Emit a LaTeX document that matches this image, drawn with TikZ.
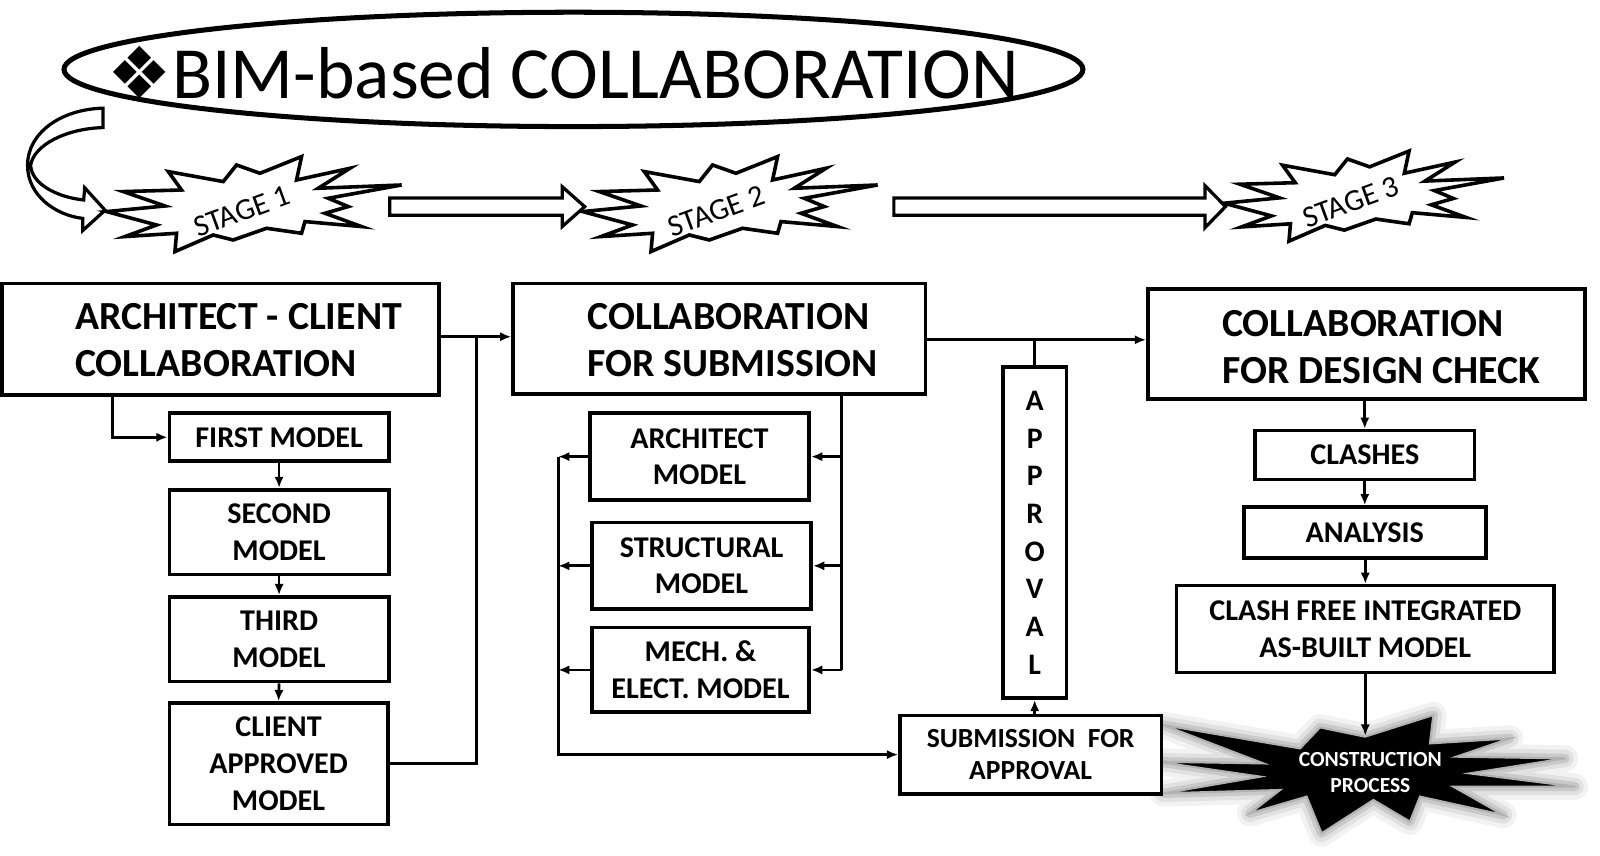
\documentclass[tikz,border=0pt]{standalone}
\usepackage{fontspec}
\setmainfont{Carlito}
\newfontfamily\dejavu{DejaVu Sans}
\usetikzlibrary{shapes.geometric,arrows.meta,calc}
\begin{document}
\begin{tikzpicture}[x=0.01cm,y=-0.01cm,
  box/.style={draw, line width=1pt, fill=white, inner sep=0pt, align=center, font=\fontsize{8.4pt}{10.2pt}\selectfont\bfseries},
  bigbox/.style={draw, line width=1pt, fill=white, inner sep=0pt},
  headtxt/.style={inner sep=0pt, align=left, anchor=north west, font=\fontsize{11.1pt}{13.1pt}\selectfont\bfseries},
  conn/.style={line width=0.75pt},
  arr/.style={line width=0.75pt, -{Latex[length=1.1mm,width=0.9mm]}},
  burst/.style={draw, line width=1pt, fill=white, line join=miter},
  stagetxt/.style={rotate=20, inner sep=0pt, font=\fontsize{8.5pt}{10pt}\selectfont},
  block/.style={draw, line width=0.9pt, fill=white},
  pics/stageburst/.style={code={
    \path[burst] (-146.7,8.3) -- (-88.3,2.7) -- (-130,-11.7) -- (-71.7,-13.3) -- (-85,-31.7) -- (-30,-21.7) -- (-16.7,-38.3) -- (6.7,-30) -- (48.3,-46.7) -- (43.3,-23.3) -- (96.7,-35) -- (65,-15) -- (148.3,-18.3) -- (75,-5) -- (95,3.3) -- (71.7,10) -- (108.3,23.3) -- (51.7,18.3) -- (48.3,30) -- (13.3,25) -- (-20,36.7) -- (-40,31.7) -- (-78.3,48.3) -- (-76.7,30) -- (-128.3,33.3) -- (-96.7,21.7) -- cycle;
  }},
  pics/cpstar/.style={code={
    \path[#1] (1140,710.5) -- (1274,733.4) -- (1293.6,712.8) -- (1337.7,721.9) -- (1404.7,700.7) -- (1401.4,728.5) -- (1479.8,723.6) -- (1427.5,741.5) -- (1533.7,743.2) -- (1440.6,757.9) -- (1543.5,770.9) -- (1424.3,770.9) -- (1473.3,798.7) -- (1391.6,780.7) -- (1381.8,805.2) -- (1345.9,784) -- (1295.2,816.7) -- (1280.5,780.7) -- (1225,797) -- (1254.4,774.2) -- (1140,777.5) -- (1234.8,761.1) -- (1133.5,746.4) -- (1238,748.1) -- cycle;
  }},
]
\useasboundingbox (0,0) rectangle (1568,838);

% title
\node[ellipse, draw, line width=1.4pt, minimum width=9.98cm, minimum height=1.12cm, inner sep=0pt] (ell) at (562,68) {};
\node[anchor=base, inner sep=0pt, font=\fontsize{20.5pt}{24pt}\selectfont] (ttl) at (552,97) {{\dejavu\fontsize{20pt}{20pt}\selectfont ❖}BIM-based COLLABORATION};

% curved arrow
\draw[block] (101,106) .. controls (60,107) and (27,130) .. (27,162) .. controls (27,192) and (55,211) .. (81,214) -- (81,226) -- (103,206) -- (83,184) -- (82,196) .. controls (55,193) and (31,180) .. (30,162) .. controls (33,142) and (65,126) .. (101,125) -- cycle;

% stages
\pic[scale=0.98] at (248.2,199.2) {stageburst};
\pic[scale=0.98] at (714.7,199.2) {stageburst};
\pic[scale=0.93] at (1336,191.4) {stageburst};
\node[stagetxt] (st1) at (237,207) {STAGE 1};
\node[stagetxt] (st2) at (702,207) {STAGE 2};
\node[stagetxt] (st3) at (1324,198) {STAGE 3};
\draw[block] (382,194) -- (551,194) -- (551,183) -- (573,202.5) -- (551,222) -- (551,211) -- (382,211) -- cycle;
\draw[block] (876,194) -- (1181,194) -- (1181,182) -- (1201,202.5) -- (1181,223) -- (1181,211) -- (876,211) -- cycle;

% construction star
\pic {cpstar={draw=gray, opacity=0.10, line width=0.26cm, line join=round}};
\pic {cpstar={draw=gray, opacity=0.15, line width=0.17cm, line join=round}};
\pic {cpstar={draw=gray, opacity=0.25, line width=0.09cm, line join=round}};
\pic {cpstar={fill=black, draw=gray!60, line width=0.6pt}};
\node[font=\fontsize{6pt}{7.2pt}\selectfont\bfseries, text=white, align=center, inner sep=0pt] (cpt) at (1343,757) {CONSTRUCTION\\PROCESS};
\coordinate (cptop) at (1338,721);

% column 1
\node[bigbox, minimum width=4.28cm, minimum height=1.09cm] (acc) at (216,332.5) {};
\node[headtxt] (acct) at (73,297) {ARCHITECT - CLIENT\\COLLABORATION};
\node[box, minimum width=2.15cm, minimum height=0.47cm] (first) at (273.5,428.5) {FIRST MODEL};
\node[box, minimum width=2.15cm, minimum height=0.83cm] (second) at (273.5,521.5) {SECOND\\MODEL};
\node[box, minimum width=2.15cm, minimum height=0.83cm] (third) at (273.5,626.5) {THIRD\\MODEL};
\node[box, minimum width=2.14cm, minimum height=1.19cm] (client) at (273,748.5) {CLIENT\\APPROVED\\MODEL};

% column 2
\node[bigbox, minimum width=4.04cm, minimum height=1.08cm] (cfs) at (705,332) {};
\node[headtxt] (cfst) at (575,297) {COLLABORATION\\FOR SUBMISSION};
\node[box, minimum width=2.15cm, minimum height=0.85cm] (arch) at (685.5,447.5) {ARCHITECT\\MODEL};
\node[box, minimum width=2.15cm, minimum height=0.85cm] (struct) at (687.5,554.5) {STRUCTURAL\\MODEL};
\node[box, minimum width=2.13cm, minimum height=0.83cm] (mech) at (686.5,656.5) {MECH. \&\\ELECT. MODEL};
\node[box, minimum width=0.62cm, minimum height=3.24cm, font=\fontsize{8.3pt}{10.5pt}\selectfont\bfseries] (appr) at (1014,522) {A\\P\\P\\R\\O\\V\\A\\L};
\node[box, minimum width=2.56cm, minimum height=0.77cm, font=\fontsize{7.7pt}{9.1pt}\selectfont\bfseries] (sub) at (1010,739.5) {SUBMISSION\ \ FOR\\APPROVAL};

% column 3
\node[bigbox, minimum width=4.28cm, minimum height=1.08cm] (cdc) at (1339,337) {};
\node[headtxt] (cdct) at (1197,303) {COLLABORATION\\FOR DESIGN CHECK};
\node[box, minimum width=2.15cm, minimum height=0.48cm] (clashes) at (1337.5,446) {CLASHES};
\node[box, minimum width=2.37cm, minimum height=0.50cm] (analysis) at (1337.5,522) {ANALYSIS};
\node[box, minimum width=3.70cm, minimum height=0.85cm] (clashfree) at (1338,616.5) {CLASH FREE INTEGRATED\\AS-BUILT MODEL};

% connectors column 1
\draw[arr] ($(acc.south west)+(110,0)$) |- (first.west);
\draw[arr] (first.south) -- (second.north);
\draw[arr] (second.south) -- (third.north);
\draw[arr] (third.south) -- (client.north);
\coordinate (j1) at (467,330);
\draw[conn] (client.east) -| (j1);
\draw[arr] (acc.east |- j1) -- (cfs.west |- j1);

% connectors column 2
\coordinate (rb) at (825,0);
\coordinate (lb) at (547,0);
\draw[conn] (cfs.south -| rb) -- (rb |- mech.east);
\draw[arr] (rb |- arch.east) -- (arch.east);
\draw[arr] (rb |- struct.east) -- (struct.east);
\draw[arr] (rb |- mech.east) -- (mech.east);
\draw[arr] (arch.west) -- (lb |- arch.west);
\draw[arr] (struct.west) -- (lb |- struct.west);
\draw[arr] (mech.west) -- (lb |- mech.west);
\draw[arr] (lb |- arch.west) |- (sub.west);
\draw[arr] (appr.south |- sub.north) -- (appr.south);
\coordinate (j2) at (1014,333);
\draw[conn] (appr.north) -- (j2);
\draw[arr] (cfs.east |- j2) -- (cdc.west |- j2);

% connectors column 3
\draw[arr] (clashes.north |- cdc.south) -- (clashes.north);
\draw[arr] (analysis.north |- clashes.south) -- (analysis.north);
\draw[arr] (clashfree.north |- analysis.south) -- (clashfree.north);
\draw[arr] (clashfree.south) -- (clashfree.south |- cptop);
\end{tikzpicture}
\end{document}
